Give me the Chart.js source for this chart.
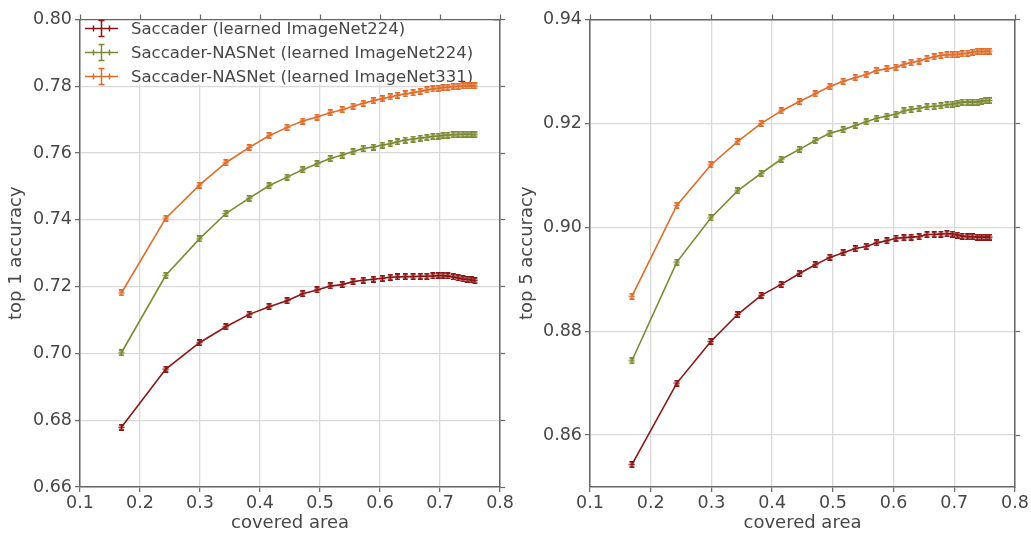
<!DOCTYPE html>
<html><head><meta charset="utf-8">
<script src="https://cdn.jsdelivr.net/npm/chart.js@4/dist/chart.umd.min.js"></script>
<style>
html,body{margin:0;padding:0;background:#fff;width:1031px;height:533px;overflow:hidden}
canvas{position:absolute;top:0}
#c1{left:0}
#c2{left:515px}
</style></head>
<body>
<canvas id="c1" width="515" height="533"></canvas>
<canvas id="c2" width="516" height="533"></canvas>
<script>
const coveredArea = [0.169,0.243,0.299,0.343,0.382,0.415,0.445,0.471,0.495,0.517,0.537,0.555,0.572,0.589,0.604,0.617,0.629,0.642,0.655,0.667,0.678,0.688,0.697,0.705,0.713,0.722,0.730,0.738,0.745,0.752,0.758];

const seriesNames = ["Saccader (learned ImageNet224)","Saccader-NASNet (learned ImageNet224)","Saccader-NASNet (learned ImageNet331)"];

const top1Saccader = [0.6779,0.6953,0.7032,0.7080,0.7117,0.7140,0.7158,0.7179,0.7190,0.7202,0.7206,0.7215,0.7219,0.7222,0.7225,0.7228,0.7229,0.7230,0.7230,0.7231,0.7231,0.7232,0.7233,0.7233,0.7232,0.7229,0.7226,0.7223,0.7222,0.7220,0.7218];
const top1NasNet224 = [0.7002,0.7234,0.7343,0.7419,0.7465,0.7502,0.7528,0.7550,0.7568,0.7584,0.7594,0.7604,0.7614,0.7618,0.7624,0.7628,0.7634,0.7639,0.7642,0.7645,0.7647,0.7650,0.7651,0.7653,0.7654,0.7655,0.7656,0.7656,0.7657,0.7656,0.7655];
const top1NasNet331 = [0.7181,0.7405,0.7504,0.7571,0.7617,0.7652,0.7677,0.7696,0.7708,0.7721,0.7730,0.7740,0.7749,0.7757,0.7763,0.7768,0.7773,0.7777,0.7781,0.7785,0.7789,0.7792,0.7794,0.7796,0.7797,0.7799,0.7800,0.7801,0.7801,0.7801,0.7801];

const top5Saccader = [0.8543,0.8700,0.8780,0.8832,0.8869,0.8890,0.8911,0.8928,0.8942,0.8951,0.8959,0.8963,0.8970,0.8974,0.8979,0.8980,0.8981,0.8982,0.8986,0.8986,0.8987,0.8988,0.8987,0.8985,0.8983,0.8982,0.8982,0.8981,0.8981,0.8981,0.8981];
const top5NasNet224 = [0.8743,0.8933,0.9018,0.9070,0.9104,0.9131,0.9150,0.9167,0.9181,0.9188,0.9196,0.9203,0.9210,0.9214,0.9218,0.9224,0.9227,0.9229,0.9232,0.9233,0.9234,0.9236,0.9237,0.9239,0.9241,0.9241,0.9241,0.9241,0.9243,0.9244,0.9244];
const top5NasNet331 = [0.8867,0.9042,0.9120,0.9165,0.9200,0.9224,0.9242,0.9257,0.9271,0.9281,0.9288,0.9294,0.9302,0.9305,0.9308,0.9314,0.9317,0.9320,0.9325,0.9328,0.9331,0.9332,0.9332,0.9333,0.9334,0.9335,0.9337,0.9339,0.9338,0.9339,0.9339];

const xTicks = [0.1,0.2,0.3,0.4,0.5,0.6,0.7,0.8];
const top1Ticks = [0.66,0.68,0.70,0.72,0.74,0.76,0.78,0.80];
const top5Ticks = [0.86,0.88,0.90,0.92,0.94];

const colors = ['#8a1616','#7e8a33','#e06c2a'];
const FONT = 'DejaVu Sans';
const TXT = '#474747';
const AXC = '#666666';
const GRID = '#d9d9d9';

function marker(color){
  const c = document.createElement('canvas');
  c.width = 7; c.height = 7;
  const g = c.getContext('2d');
  g.strokeStyle = color; g.lineWidth = 1.7;
  g.beginPath();
  g.moveTo(3.5,0.5); g.lineTo(3.5,6.5);
  g.moveTo(1,0.9); g.lineTo(6,0.9);
  g.moveTo(1,6.1); g.lineTo(6,6.1);
  g.moveTo(0.5,3.5); g.lineTo(6.5,3.5);
  g.stroke();
  return c;
}

function makeDatasets(arrs){
  return arrs.map((vals,i)=>({
    label: seriesNames[i],
    data: coveredArea.map((x,j)=>({x:x,y:vals[j]})),
    borderColor: colors[i],
    backgroundColor: colors[i],
    borderWidth: 1.6,
    showLine: true,
    pointStyle: marker(colors[i]),
    pointRadius: 3,
    pointHoverRadius: 3,
    tension: 0
  }));
}

const legendPlugin = {
  id: 'insideLegend',
  beforeDatasetsDraw(chart, args, opts){
    if(!opts.show) return;
    const ctx = chart.ctx, a = chart.chartArea;
    ctx.save();
    ctx.fillStyle = '#ffffff';
    ctx.fillRect(a.left+1, a.top+1, 412, 64);
    ctx.font = '16.5px "' + FONT + '"';
    ctx.textBaseline = 'middle';
    chart.data.datasets.forEach((ds,i)=>{
      const y = a.top + 9 + i*24;
      const x0 = a.left + 5, x1 = a.left + 38, xc = (x0+x1)/2;
      ctx.strokeStyle = ds.borderColor; ctx.lineWidth = 1.5;
      ctx.beginPath();
      ctx.moveTo(x0,y); ctx.lineTo(x1,y);
      ctx.moveTo(xc,y-8); ctx.lineTo(xc,y+8);
      ctx.moveTo(xc-3,y-8); ctx.lineTo(xc+3,y-8);
      ctx.moveTo(xc-3,y+8); ctx.lineTo(xc+3,y+8);
      ctx.moveTo(xc-8,y-3); ctx.lineTo(xc-8,y+3);
      ctx.moveTo(xc+8,y-3); ctx.lineTo(xc+8,y+3);
      ctx.stroke();
      ctx.fillStyle = TXT;
      ctx.fillText(ds.label, a.left + 51, y + 1);
    });
    ctx.restore();
  }
};

function makeChart(id, arrs, yTicks, yMin, yMax, yTitle, yWidth, padRight, titlePad, showLegend){
  const fixTicks = arr => (s => { s.ticks = arr.map(v=>({value:v})); });
  return new Chart(document.getElementById(id), {
    type: 'scatter',
    data: { datasets: makeDatasets(arrs) },
    plugins: [legendPlugin],
    options: {
      responsive: false,
      animation: false,
      events: [],
      layout: { padding: { top: 14.5, right: padRight, bottom: 0, left: 0 } },
      plugins: { legend: { display: false }, tooltip: { enabled: false }, insideLegend: { show: showLegend } },
      scales: {
        x: {
          type: 'linear', position: 'bottom', min: 0.1, max: 0.8,
          afterBuildTicks: fixTicks(xTicks),
          afterFit: s => { s.height = 46; },
          grid: { color: GRID, lineWidth: 1.3, tickColor: AXC, tickLength: 5, tickWidth: 1.2 },
          border: { color: AXC, width: 1.5 },
          ticks: { color: TXT, font: { family: FONT, size: 17.5 }, padding: 1, maxRotation: 0, autoSkip: false,
                   callback: v => v.toFixed(1) },
          title: { display: true, text: 'covered area', color: TXT, font: { family: FONT, size: 18, lineHeight: 1.0 }, padding: { top: 0, bottom: 1 } }
        },
        x2: {
          type: 'linear', position: 'top', min: 0.1, max: 0.8,
          afterBuildTicks: fixTicks(xTicks),
          afterFit: s => { s.height = 5; },
          grid: { drawOnChartArea: false, tickColor: AXC, tickLength: 5, tickWidth: 1.2 },
          border: { color: AXC, width: 1.5 },
          ticks: { display: false }
        },
        y: {
          type: 'linear', position: 'left', min: yMin, max: yMax,
          afterBuildTicks: fixTicks(yTicks),
          afterFit: s => { s.width = yWidth; },
          grid: { color: GRID, lineWidth: 1.3, tickColor: AXC, tickLength: 5, tickWidth: 1.2 },
          border: { color: AXC, width: 1.5 },
          ticks: { color: TXT, font: { family: FONT, size: 17.5 }, padding: 3, autoSkip: false,
                   callback: v => v.toFixed(2) },
          title: { display: true, text: yTitle, color: TXT, font: { family: FONT, size: 18 }, padding: { top: titlePad, bottom: 4 } }
        },
        y2: {
          type: 'linear', position: 'right', min: yMin, max: yMax,
          afterBuildTicks: fixTicks(yTicks),
          afterFit: s => { s.width = 5; },
          grid: { drawOnChartArea: false, tickColor: AXC, tickLength: 5, tickWidth: 1.2 },
          border: { color: AXC, width: 1.5 },
          ticks: { display: false }
        }
      }
    }
  });
}

makeChart('c1', [top1Saccader, top1NasNet224, top1NasNet331], top1Ticks, 0.66, 0.80, 'top 1 accuracy', 80, 5, 6, true);
makeChart('c2', [top5Saccader, top5NasNet224, top5NasNet331], top5Ticks, 0.85, 0.94, 'top 5 accuracy', 75, 11, 2, false);
</script>
</body></html>
